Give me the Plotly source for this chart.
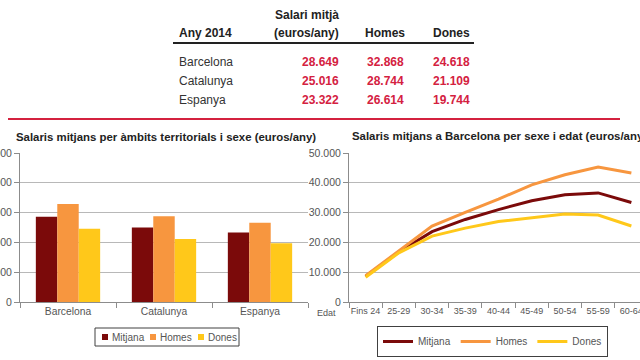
import plotly.graph_objects as go

W, H = 640, 360

# ---- data ----
regions = ["Barcelona", "Catalunya", "Espanya"]
mitjana = [28649, 25016, 23322]
homes = [32868, 28744, 26614]
dones = [24618, 21109, 19744]

ages = ["Fins 24", "25-29", "30-34", "35-39", "40-44", "45-49", "50-54", "55-59", "60-64"]
edat_mitjana = [8600, 16800, 23600, 27700, 31000, 34000, 36000, 36600, 33400]
edat_homes = [8800, 17200, 25500, 30100, 34500, 39300, 42700, 45300, 43300]
edat_dones = [8300, 16500, 22100, 24800, 27000, 28300, 29500, 29200, 25500]

series_names = ["Mitjana", "Homes", "Dones"]
table_year = "Any 2014"
table_head1 = ["Salari mitjà", "", ""]
table_head2 = ["(euros/any)", "Homes", "Dones"]

C_MIT = "#7b0a0a"
C_HOM = "#f7963f"
C_DON = "#ffc81a"
COLORS = [C_MIT, C_HOM, C_DON]
RED = "#d4213f"
GRID = "#b8b8b8"
AXIS = "#8c8c8c"
TXT = "#555555"
FONT = "Arial, Liberation Sans, sans-serif"


def px(x):
    return x / W


def py(y):
    return 1 - y / H


def fmt(v):
    return f"{v:,}".replace(",", ".")


fig = go.Figure()

# left bar chart
for name, vals, col in zip(series_names, [mitjana, homes, dones], COLORS):
    fig.add_trace(go.Bar(x=regions, y=vals, name=name, marker_color=col,
                         xaxis="x", yaxis="y", showlegend=False))

# right line chart
for name, vals, col in zip(series_names, [edat_mitjana, edat_homes, edat_dones], COLORS):
    fig.add_trace(go.Scatter(x=ages, y=vals, name=name, mode="lines",
                             line=dict(color=col, width=3), xaxis="x2", yaxis="y2",
                             legend="legend2"))

ydom = [py(302), py(153)]
yax_common = dict(range=[0, 50000], dtick=10000, tickformat=",", showgrid=True,
                  gridcolor=GRID, gridwidth=1, showline=True, linecolor=AXIS,
                  linewidth=1, ticks="outside", ticklen=5, tickcolor=AXIS,
                  zeroline=False, tickfont=dict(size=10.5, color=TXT, family=FONT),
                  fixedrange=True, automargin=False)

fig.update_layout(
    template="none",
    width=W, height=H,
    margin=dict(l=0, r=0, t=0, b=0, pad=0, autoexpand=False),
    paper_bgcolor="white", plot_bgcolor="white",
    separators=",.",
    font=dict(family=FONT, color=TXT),
    barmode="group", bargap=0.33, bargroupgap=0,
    xaxis=dict(domain=[px(20), px(308)], anchor="y", showline=True, linecolor=AXIS,
               linewidth=1, ticks="outside", tickson="boundaries", ticklen=5,
               tickcolor=AXIS, showgrid=False, automargin=False, tickangle=0,
               tickfont=dict(size=10.3, color=TXT, family=FONT)),
    yaxis=dict(domain=ydom, anchor="x", **yax_common),
    xaxis2=dict(domain=[px(349), 1], anchor="y2", range=[-0.5, 8.26],
                showline=True, linecolor=AXIS, linewidth=1, ticks="outside",
                tickson="boundaries", ticklen=5, tickcolor=AXIS, showgrid=False,
                automargin=False, tickangle=0,
                tickfont=dict(size=9, color=TXT, family=FONT)),
    yaxis2=dict(domain=ydom, anchor="x2", **yax_common),
    showlegend=True,
    legend2=dict(orientation="h", x=px(377), y=py(326), xanchor="left", yanchor="top",
                 xref="container", yref="container",
                 bordercolor="#404040", borderwidth=1, bgcolor="white",
                 font=dict(size=10, color=TXT, family=FONT), itemwidth=30),
)

ann = []
HB = dict(size=12, color="#222222")
# table header
ann.append(dict(x=px(177), y=py(33), text="<b>" + table_year + "</b>", xanchor="left",
                yanchor="middle", font=HB))
ann.append(dict(x=px(341), y=py(15), text="<b>" + table_head1[0] + "</b>", xanchor="right",
                yanchor="middle", font=HB))
for xr, t in zip([341, 407, 472], table_head2):
    ann.append(dict(x=px(xr), y=py(33), text="<b>" + t + "</b>", xanchor="right",
                    yanchor="middle", font=HB))
row_y = [62, 81, 100]
for i, r in enumerate(regions):
    ann.append(dict(x=px(177), y=py(row_y[i]), text=r, xanchor="left", yanchor="middle",
                    font=dict(size=12, color="#333333")))
    for xr, vals in zip([341, 406, 472], [mitjana, homes, dones]):
        ann.append(dict(x=px(xr), y=py(row_y[i]), text="<b>" + fmt(vals[i]) + "</b>",
                        xanchor="right", yanchor="middle", font=dict(size=12, color=RED)))

# chart titles
ann.append(dict(x=px(166), y=py(137), text="<b>Salaris mitjans per àmbits territorials i sexe (euros/any)</b>",
                xanchor="center", yanchor="middle", font=dict(size=11.4, color="#222222")))
ann.append(dict(x=px(350), y=py(136), text="<b>Salaris mitjans a Barcelona per sexe i edat (euros/any)</b>",
                xanchor="left", yanchor="middle", width=288, align="left",
                font=dict(size=11.4, color="#222222")))
ann.append(dict(x=px(326), y=py(313), text="Edat", xanchor="center", yanchor="middle",
                font=dict(size=9, color=TXT)))

shapes = [
    dict(type="line", x0=px(173), x1=px(474), y0=py(43), y1=py(43),
         line=dict(color="#222222", width=2)),
    dict(type="line", x0=px(8), x1=px(620), y0=py(119), y1=py(119),
         line=dict(color=RED, width=2)),
    # left legend box
    dict(type="rect", x0=px(95), x1=px(239), y0=py(328), y1=py(346),
         line=dict(color="#404040", width=1), fillcolor="white"),
]
leg_sq_x = [102, 150, 198]
for name, col, sx in zip(series_names, COLORS, leg_sq_x):
    shapes.append(dict(type="rect", x0=px(sx), x1=px(sx + 6), y0=py(334), y1=py(340),
                       line=dict(width=0), fillcolor=col))
    ann.append(dict(x=px(sx + 8), y=py(337), text=name, xanchor="left", yanchor="middle",
                    font=dict(size=10, color=TXT)))
for s in shapes:
    s.update(xref="paper", yref="paper")
for a in ann:
    a.update(xref="paper", yref="paper", showarrow=False)
fig.update_layout(annotations=ann, shapes=shapes)

fig.write_html("out.html", config={"displayModeBar": False},
               post_script="document.body.style.margin='0';document.body.style.overflow='hidden';")
